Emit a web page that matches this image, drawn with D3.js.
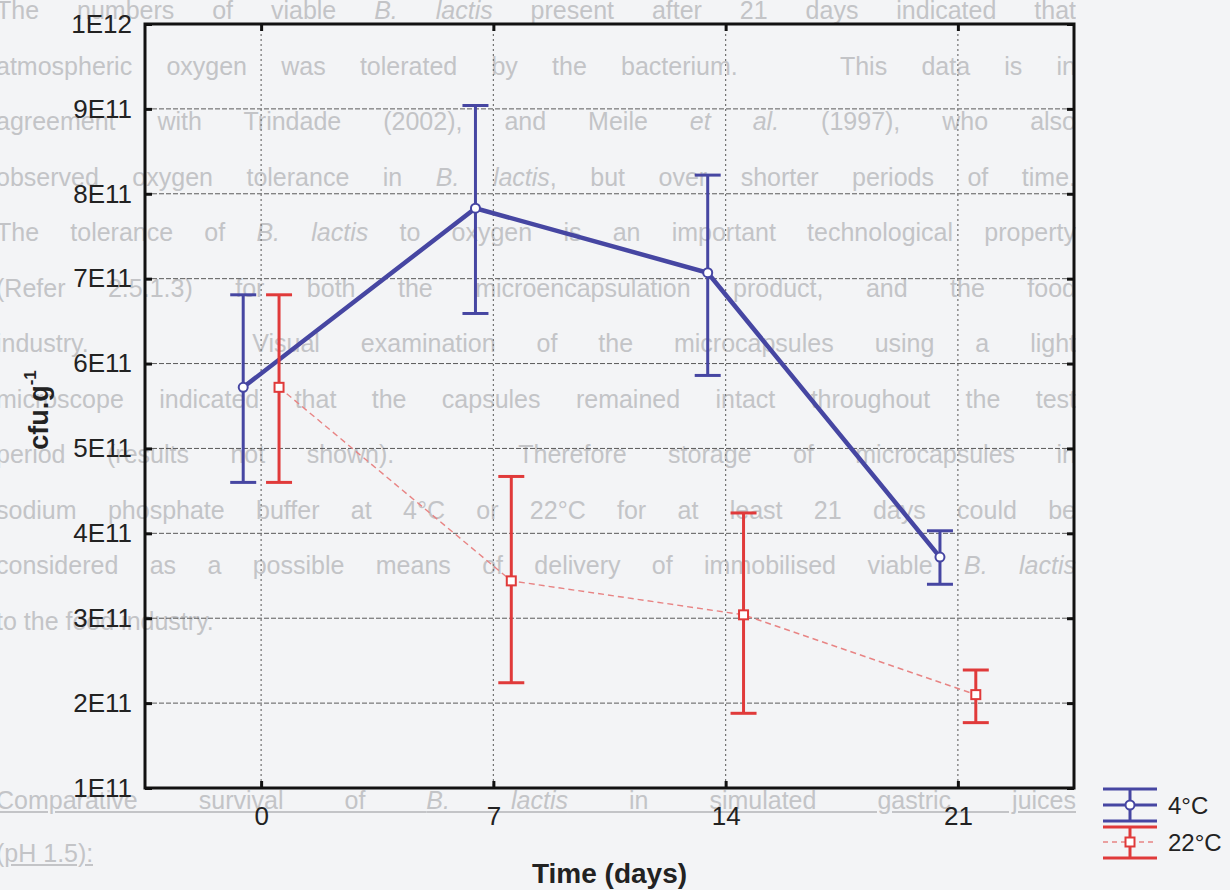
<!DOCTYPE html>
<html>
<head>
<meta charset="utf-8">
<script src="https://cdn.jsdelivr.net/npm/d3@7"></script>
<style>
  body { margin: 0; background: #f3f4f6; }
  #page { position: relative; width: 1230px; height: 890px; overflow: hidden;
          font-family: "Liberation Sans", Arial, sans-serif; }
  .bgline { position: absolute; left: -4px; width: 1080px; height: 30px; line-height: 30px;
            font-size: 25px; color: #c3c4c7; text-align: justify; text-align-last: justify;
            overflow: hidden; }
  .bgline.last { text-align-last: left; }
  .bgline.ul { text-decoration: underline; }
  svg { position: absolute; left: 0; top: 0; }
</style>
</head>
<body>
<div id="page"></div>
<script>
// Data
const days = [0, 7, 14, 21];
const mean4 = [5.72e11, 7.83e11, 7.07e11, 3.72e11];
const upper4 = [6.81e11, 9.04e11, 8.22e11, 4.03e11];
const lower4 = [4.60e11, 6.59e11, 5.86e11, 3.40e11];
const mean22 = [5.72e11, 3.44e11, 3.04e11, 2.10e11];
const upper22 = [6.81e11, 4.67e11, 4.24e11, 2.39e11];
const lower22 = [4.60e11, 2.24e11, 1.88e11, 1.77e11];
const yTicks = [1e11, 2e11, 3e11, 4e11, 5e11, 6e11, 7e11, 8e11, 9e11, 1e12];
const yTickLabels = ['1E11', '2E11', '3E11', '4E11', '5E11', '6E11', '7E11', '8E11', '9E11', '1E12'];
const seriesNames = ['4°C', '22°C'];

// Page text showing through the scan
const bgLines = [
  'The numbers of viable <i>B. lactis</i> present after 21 days indicated that',
  'atmospheric oxygen was tolerated by the bacterium.&nbsp;&nbsp; This data is in',
  'agreement with Trindade (2002), and Meile <i>et al.</i> (1997), who also',
  'observed oxygen tolerance in <i>B. lactis</i>, but over shorter periods of time.',
  'The tolerance of <i>B. lactis</i> to oxygen is an important technological property',
  '(Refer 2.5.1.3) for both the microencapsulation product, and the food',
  'industry.&nbsp;&nbsp;&nbsp; Visual examination of the microcapsules using a light',
  'microscope indicated that the capsules remained intact throughout the test',
  'period (results not shown).&nbsp;&nbsp; Therefore storage of microcapsules in',
  'sodium phosphate buffer at 4°C or 22°C for at least 21 days could be',
  'considered as a possible means of delivery of immobilised viable <i>B. lactis</i>',
  'to the food industry.'
];
const bgHeading = [
  'Comparative survival of <i>B. lactis</i> in simulated gastric juices',
  '(pH 1.5):'
];

const page = d3.select('#page');

page.selectAll('.body')
  .data(bgLines)
  .enter()
  .append('div')
  .attr('class', (d, i) => 'bgline body' + (i === bgLines.length - 1 ? ' last' : ''))
  .style('top', (d, i) => (10 + i * 55.5 - 15) + 'px')
  .html(d => d);

page.selectAll('.head')
  .data(bgHeading)
  .enter()
  .append('div')
  .attr('class', (d, i) => 'bgline ul head' + (i === 1 ? ' last' : ''))
  .style('top', (d, i) => (800 + i * 53 - 15) + 'px')
  .style('width', (d, i) => i === 1 ? 'auto' : '1080px')
  .html(d => d);

// Chart
const width = 1230;
const height = 890;
const plotLeft = 145, plotRight = 1074, plotTop = 24, plotBottom = 788;
const blue = '#4646a2';
const red = '#e03a3a';
const offset = 0.54;

const svg = page.append('svg')
  .attr('width', width)
  .attr('height', height)
  .style('font-family', '"Liberation Sans", Arial, sans-serif');

const x = d3.scaleLinear().domain([-3.5, 24.5]).range([plotLeft, plotRight]);
const y = d3.scaleLinear().domain([1e11, 1e12]).range([plotBottom, plotTop]);

// Grid
svg.append('g')
  .selectAll('line')
  .data(yTicks.slice(1, -1))
  .enter()
  .append('line')
  .attr('x1', plotLeft).attr('x2', plotRight)
  .attr('y1', d => y(d)).attr('y2', d => y(d))
  .attr('stroke', '#5a5a5a')
  .attr('stroke-width', 1)
  .attr('stroke-dasharray', '5,2');

svg.append('g')
  .selectAll('line')
  .data(days)
  .enter()
  .append('line')
  .attr('x1', d => x(d)).attr('x2', d => x(d))
  .attr('y1', plotTop).attr('y2', plotBottom)
  .attr('stroke', '#707070')
  .attr('stroke-width', 1.2)
  .attr('stroke-dasharray', '2,3');

// Axes
function styleAxis(g, fontSize) {
  g.select('.domain').remove();
  g.selectAll('.tick line').attr('stroke', '#111').attr('stroke-width', 3);
  g.selectAll('.tick text')
    .attr('fill', '#222')
    .style('font-size', fontSize + 'px')
    .style('font-family', '"Liberation Sans", Arial, sans-serif');
}

svg.append('g')
  .attr('transform', 'translate(' + plotLeft + ',0)')
  .call(d3.axisLeft(y).tickValues(yTicks).tickFormat((d, i) => yTickLabels[i])
    .tickSizeInner(-7).tickSizeOuter(0).tickPadding(13))
  .call(g => styleAxis(g, 26));

svg.append('g')
  .attr('transform', 'translate(' + plotRight + ',0)')
  .call(d3.axisRight(y).tickValues(yTicks).tickFormat('')
    .tickSizeInner(-7).tickSizeOuter(0))
  .call(g => styleAxis(g, 26));

svg.append('g')
  .attr('transform', 'translate(0,' + plotBottom + ')')
  .call(d3.axisBottom(x).tickValues(days).tickFormat(d3.format('d'))
    .tickSizeInner(-7).tickSizeOuter(0).tickPadding(19))
  .call(g => styleAxis(g, 26));

svg.append('g')
  .attr('transform', 'translate(0,' + plotTop + ')')
  .call(d3.axisTop(x).tickValues(days).tickFormat('')
    .tickSizeInner(-7).tickSizeOuter(0))
  .call(g => styleAxis(g, 26));

svg.append('rect')
  .attr('x', plotLeft).attr('y', plotTop)
  .attr('width', plotRight - plotLeft).attr('height', plotBottom - plotTop)
  .attr('fill', 'none')
  .attr('stroke', '#111')
  .attr('stroke-width', 3);

// Series lines
const line22 = d3.line()
  .x((d, i) => x(days[i] + offset))
  .y(d => y(d));
svg.append('path')
  .datum(mean22)
  .attr('d', line22)
  .attr('fill', 'none')
  .attr('stroke', '#e88484')
  .attr('stroke-width', 1.4)
  .attr('stroke-dasharray', '6,4');

const line4 = d3.line()
  .x((d, i) => x(days[i] - offset))
  .y(d => y(d));
svg.append('path')
  .datum(mean4)
  .attr('d', line4)
  .attr('fill', 'none')
  .attr('stroke', blue)
  .attr('stroke-width', 4.5);

// Error bars
function errorBars(lo, hi, dx, color) {
  const g = svg.append('g').attr('stroke', color).attr('stroke-width', 3);
  days.forEach((d, i) => {
    const cx = x(d + dx);
    g.append('line').attr('x1', cx).attr('x2', cx).attr('y1', y(lo[i])).attr('y2', y(hi[i]));
    g.append('line').attr('x1', cx - 13).attr('x2', cx + 13).attr('y1', y(hi[i])).attr('y2', y(hi[i]));
    g.append('line').attr('x1', cx - 13).attr('x2', cx + 13).attr('y1', y(lo[i])).attr('y2', y(lo[i]));
  });
}
errorBars(lower4, upper4, -offset, blue);
errorBars(lower22, upper22, offset, red);

// Markers
svg.selectAll('.m4')
  .data(mean4)
  .enter()
  .append('circle')
  .attr('class', 'm4')
  .attr('cx', (d, i) => x(days[i] - offset))
  .attr('cy', d => y(d))
  .attr('r', 4.5)
  .attr('fill', '#fff')
  .attr('stroke', blue)
  .attr('stroke-width', 2);

svg.selectAll('.m22')
  .data(mean22)
  .enter()
  .append('rect')
  .attr('class', 'm22')
  .attr('x', (d, i) => x(days[i] + offset) - 4.5)
  .attr('y', d => y(d) - 4.5)
  .attr('width', 9)
  .attr('height', 9)
  .attr('fill', '#fff')
  .attr('stroke', red)
  .attr('stroke-width', 2);

// Axis titles
svg.append('text')
  .attr('x', (plotLeft + plotRight) / 2)
  .attr('y', 883)
  .attr('text-anchor', 'middle')
  .attr('fill', '#222')
  .style('font-size', '28px')
  .style('font-weight', 'bold')
  .text('Time (days)');

const yTitle = svg.append('text')
  .attr('transform', 'translate(48,410) rotate(-90)')
  .attr('text-anchor', 'middle')
  .attr('fill', '#222')
  .style('font-size', '27px')
  .style('font-weight', 'bold');
yTitle.append('tspan').text('cfu.g');
yTitle.append('tspan').attr('dy', -12).style('font-size', '17px').text('-1');

// Legend
const legend = svg.append('g');
const lx1 = 1103, lx2 = 1157, lcx = 1130;

legend.append('g').attr('stroke', blue).attr('stroke-width', 3)
  .selectAll('line').data([789, 805, 821]).enter().append('line')
  .attr('x1', lx1).attr('x2', lx2).attr('y1', d => d).attr('y2', d => d);
legend.append('line').attr('x1', lcx).attr('x2', lcx).attr('y1', 789).attr('y2', 821)
  .attr('stroke', blue).attr('stroke-width', 3);
legend.append('circle').attr('cx', lcx).attr('cy', 805).attr('r', 4.5)
  .attr('fill', '#fff').attr('stroke', blue).attr('stroke-width', 2);

legend.append('g').attr('stroke', red).attr('stroke-width', 3)
  .selectAll('line').data([827, 858]).enter().append('line')
  .attr('x1', lx1).attr('x2', lx2).attr('y1', d => d).attr('y2', d => d);
legend.append('line').attr('x1', lx1).attr('x2', lx2).attr('y1', 842).attr('y2', 842)
  .attr('stroke', '#e88484').attr('stroke-width', 1.4).attr('stroke-dasharray', '5,4');
legend.append('line').attr('x1', lcx).attr('x2', lcx).attr('y1', 827).attr('y2', 858)
  .attr('stroke', red).attr('stroke-width', 3);
legend.append('rect').attr('x', lcx - 4.5).attr('y', 842 - 4.5).attr('width', 9).attr('height', 9)
  .attr('fill', '#fff').attr('stroke', red).attr('stroke-width', 2);

legend.selectAll('.ltext')
  .data(seriesNames)
  .enter()
  .append('text')
  .attr('class', 'ltext')
  .attr('x', 1168)
  .attr('y', (d, i) => 814 + i * 37)
  .attr('fill', '#222')
  .style('font-size', '24px')
  .text(d => d);
</script>
</body>
</html>
